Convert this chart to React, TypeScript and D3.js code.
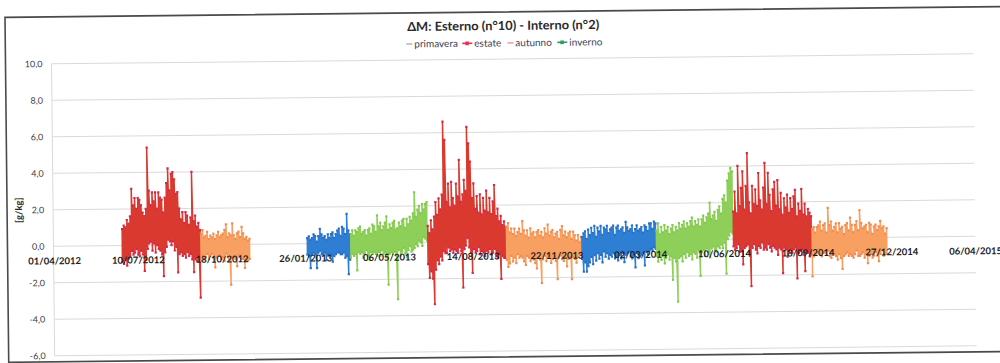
import * as d3 from 'd3';

const W = 1000;
const H = 363;

// date axis labels (every 100 days)
const dateTicks = [
  '01/04/2012', '10/07/2012', '18/10/2012', '26/01/2013', '06/05/2013', '14/08/2013',
  '22/11/2013', '02/03/2014', '10/06/2014', '18/09/2014', '27/12/2014', '06/04/2015',
];
const yTicks = [-6, -4, -2, 0, 2, 4, 6, 8, 10];

// the logged series is far denser than the page; each season keeps the high / low reached
// in every ~2-day slot, read off the scan, spread evenly from first to last day
const estate2012Hi = [
  0.9, 1.1, 1.0, 1.4, 1.2, 1.6, 3.1, 2.2, 2.6, 2.0, 2.6, 2.5, 2.2, 1.8, 1.6, 2.0, 5.35, 3.0, 2.2, 2.9,
  2.4, 2.9, 2.0, 2.9, 2.6, 2.5, 1.8, 2.6, 3.4, 4.2, 3.0, 3.9, 4.0, 3.6, 2.8, 2.9, 2.0, 1.4, 1.8, 1.2,
  1.8, 1.6, 1.1, 1.5, 4.0, 1.3, 1.6, 1.0, 1.2, 0.8,
];
const estate2012Lo = [
  -0.9, -1.0, -0.8, -1.1, -0.7, -0.6, -0.3, -0.5, -0.4, -0.2, -0.5, -0.6, -0.3, -0.5, -1.4, -0.8, -0.2,
  0.1, 0.2, -0.3, 0.1, -0.4, 0.0, -0.2, -0.3, -0.5, -1.7, -0.4, -0.1, 0.3, 0.2, 0.0, 0.2, -0.3, -0.1,
  -1.5, -0.5, -0.4, -0.6, -0.5, -0.7, -0.4, -0.6, -0.5, -0.8, -1.5, -0.8, -0.9, -0.6, -2.9,
];
const autunno2012Hi = [
  0.6, 0.8, 0.4, 0.5, 0.7, 0.3, 0.5, 0.4, 0.6, 0.3, 0.5, 0.7, 0.4, 0.5, 0.6, 0.8, 1.1, 0.4, 0.6, 0.5,
  1.15, 0.5, 0.3, 0.6, 0.7, 0.4, 0.95, 0.6, 0.3, 0.4, 0.2, 0.3,
];
const autunno2012Lo = [
  -0.9, -0.6, -0.8, -0.7, -0.5, -0.8, -0.6, -0.5, -0.7, -1.25, -0.7, -0.6, -0.6, -0.8, -0.7, -0.9, -0.5,
  -0.7, -0.8, -2.2, -0.7, -0.7, -0.8, -1.2, -0.6, -0.6, -0.8, -0.8, -1.3, -0.9, -0.9, -0.8,
];
const inverno2013Hi = [
  0.3, 0.4, 0.2, 0.3, 0.5, 0.4, 0.1, 0.4, 0.8, 0.5, 0.3, 0.4, 0.2, 0.5, 0.3, 0.5, 0.6, 0.3, 0.5, 0.7,
  0.8, 0.4, 0.9, 0.8, 0.5, 1.6, 0.7, 0.5,
];
const inverno2013Lo = [
  -0.6, -0.7, -1.35, -0.6, -0.5, -0.6, -1.35, -0.5, -0.4, -0.6, -0.6, -0.5, -0.9, -0.6, -0.7, -0.6, -1.0,
  -0.7, -0.6, -0.5, -0.5, -0.6, -0.6, -0.5, -0.8, -0.7, -1.7, -0.9,
];
const primavera2013Hi = [
  0.5, 0.7, 0.4, 0.7, 0.6, 0.8, 0.9, 0.5, 0.6, 0.7, 0.4, 0.7, 0.8, 0.5, 1.0, 0.9, 0.6, 1.5, 0.9, 1.1,
  0.7, 0.9, 1.1, 1.45, 0.7, 1.0, 0.8, 1.1, 1.2, 0.7, 0.8, 1.1, 0.9, 1.2, 1.3, 0.8, 1.3, 1.0, 1.4, 1.2,
  1.6, 2.75, 1.4, 1.8, 2.0, 1.6, 2.1, 1.8, 2.1, 2.2,
];
const primavera2013Lo = [
  -0.8, -0.6, -0.7, -0.6, -1.5, -0.5, -0.6, -0.5, -0.8, -0.6, -0.4, -0.7, -0.9, -0.5, -0.6, -0.5, -0.6,
  -0.7, -0.5, -0.7, -0.4, -0.6, -0.5, -0.8, -2.3, -0.6, -0.5, -0.6, -0.5, -0.7, -3.1, -0.4, -0.7, -0.5,
  -0.3, -0.6, -0.8, -0.4, -0.2, -0.5, -0.4, -0.3, -0.1, -0.2, 0.1, 0.0, -0.2, 0.3, 0.2, 0.1,
];
const estate2013Hi = [
  0.9, 0.5, 1.2, 0.7, 1.4, 2.2, 1.5, 2.4, 1.8, 2.6, 6.6, 5.6, 2.2, 3.2, 1.9, 3.3, 2.4, 2.0, 3.2, 2.5,
  4.5, 2.2, 2.6, 3.4, 2.8, 6.3, 5.4, 4.4, 2.4, 3.2, 1.8, 2.5, 1.6, 2.6, 1.5, 2.4, 1.7, 2.8, 1.6, 2.4,
  1.5, 2.2, 3.1, 1.4, 1.8, 1.1, 1.4, 0.9, 1.1, 0.8,
];
const estate2013Lo = [
  -1.2, -1.95, -1.6, -2.0, -3.4, -1.5, -1.0, -1.2, -0.8, -1.0, -0.5, -0.6, -0.6, -0.3, -0.5, -0.4, -0.6,
  -0.4, -0.5, -0.6, -0.3, -0.5, -2.5, -0.4, -0.2, 0.2, -0.3, -0.6, -1.7, -0.4, -0.6, -0.5, -0.3, -0.7,
  -0.5, -0.6, -0.8, -0.5, -0.6, -0.4, -0.7, -0.6, -0.4, -0.8, -0.9, -0.7, -2.05, -0.8, -0.9, -0.9,
];
const autunno2013Hi = [
  0.8, 1.0, 0.5, 0.7, 0.4, 0.7, 0.3, 0.5, 0.7, 0.4, 1.1, 0.6, 0.3, 0.6, 0.2, 0.7, 0.4, 0.5, 0.2, 0.5,
  0.6, 0.3, 0.5, 0.2, 0.7, 0.4, 0.9, 0.3, 0.5, 0.6, 0.2, 0.4, 0.5, 0.1, 0.6, 0.8, 0.3, 0.5, 0.2, 0.4,
  0.5, 0.1, 0.5, 0.3, 0.0, 0.3, -0.1, 0.2,
];
const autunno2013Lo = [
  -1.0, -1.4, -1.2, -0.8, -1.1, -0.9, -1.2, -0.7, -0.9, -0.8, -0.9, -1.1, -1.3, -0.8, -0.9, -1.1, -0.9,
  -1.0, -1.2, -1.5, -0.9, -1.0, -2.3, -1.0, -0.8, -1.1, -0.9, -0.8, -1.2, -1.0, -0.9, -1.1, -2.1, -0.9,
  -0.8, -1.0, -1.1, -0.9, -1.4, -1.0, -0.9, -2.1, -0.9, -1.0, -1.2, -0.9, -0.8, -0.8,
];
const inverno2014Hi = [
  0.2, 0.4, 0.5, 0.1, 0.6, 0.3, 0.7, 0.4, 0.8, 0.2, 0.7, 0.5, 0.8, 0.3, 0.7, 0.6, 0.8, 0.4, 0.6, 0.7,
  0.8, 0.3, 0.7, 0.8, 0.5, 0.6, 0.7, 0.4, 1.0, 0.7, 0.5, 0.6, 0.8, 0.4, 0.6, 0.8, 0.5, 0.6, 0.7, 0.4,
  0.8, 0.7, 0.5, 0.9, 0.9, 0.6, 1.0, 0.9,
];
const inverno2014Lo = [
  -1.0, -1.7, -1.2, -1.7, -1.4, -1.2, -0.9, -1.3, -0.8, -1.1, -0.7, -1.0, -0.8, -1.2, -0.6, -0.9, -0.7,
  -1.0, -0.8, -0.9, -0.7, -1.0, -0.9, -1.1, -0.8, -1.0, -0.7, -1.2, -0.8, -0.7, -0.6, -0.9, -1.0, -0.8,
  -1.5, -0.7, -1.0, -0.9, -0.8, -0.7, -1.4, -0.6, -0.8, -0.6, -0.5, -0.6, -0.4, -0.5,
];
const primavera2014Hi = [
  0.5, 0.9, 0.3, 0.7, 0.4, 0.8, 0.5, 0.7, 0.3, 0.6, 0.8, 0.4, 0.7, 0.5, 0.9, 0.6, 0.8, 1.0, 0.6, 0.9,
  0.7, 1.0, 1.2, 0.7, 1.0, 0.8, 1.1, 0.7, 1.1, 1.3, 0.9, 1.2, 1.4, 2.0, 1.1, 1.3, 1.5, 1.0, 1.6, 1.8,
  1.4, 2.2, 2.4, 2.0, 3.2, 3.6, 3.9, 3.7,
];
const primavera2014Lo = [
  -0.9, -1.2, -0.8, -1.1, -0.9, -1.3, -1.0, -0.8, -1.1, -0.9, -2.2, -1.0, -1.2, -3.4, -1.0, -0.9, -1.2,
  -0.8, -1.0, -0.7, -0.9, -0.8, -1.1, -0.7, -0.8, -1.0, -0.6, -2.0, -0.7, -0.6, -0.9, -0.5, -0.7, -1.0,
  -0.5, -0.4, -0.6, -0.7, -0.4, -0.5, -0.3, -0.5, -0.2, -1.9, 0.0, 0.2, 0.4, 0.3,
];
const estate2014Hi = [
  1.5, 2.6, 1.4, 4.0, 1.8, 2.8, 3.7, 1.6, 2.9, 4.7, 2.0, 1.4, 2.9, 1.9, 2.7, 1.8, 3.6, 2.1, 1.6, 2.8,
  4.15, 1.9, 3.6, 2.4, 1.5, 2.7, 3.1, 1.8, 3.2, 1.6, 2.5, 1.3, 2.2, 1.7, 2.4, 1.4, 2.2, 1.6, 2.3, 2.65,
  1.2, 1.9, 1.5, 2.7, 1.3, 1.9, 1.2, 1.6, 1.4, 1.2,
];
const estate2014Lo = [
  -0.4, -0.6, -0.5, -0.3, -0.7, -0.6, -1.4, -0.5, -0.4, -0.3, -0.8, -2.6, -0.5, -0.3, -0.6, -0.8, -0.4,
  -0.5, -0.2, -0.6, -0.5, -0.6, -0.3, -0.5, -0.7, -0.4, -0.5, -0.6, -0.9, -0.5, -0.6, -1.9, -0.5, -0.6,
  -1.0, -0.7, -0.6, -0.8, -0.6, -0.5, -2.2, -0.8, -0.7, -0.6, -0.9, -1.8, -0.7, -0.8, -1.0, -0.9,
];
const autunno2014Hi = [
  0.5, 0.6, 0.3, 0.6, 0.7, 0.9, 0.4, 0.7, 0.8, 0.3, 1.65, 0.7, 0.9, 0.4, 0.6, 0.8, 0.3, 0.8, 0.5, 0.6,
  0.2, 0.7, 0.8, 0.4, 1.1, 0.7, 0.3, 0.7, 0.9, 0.4, 1.5, 0.8, 0.5, 0.6, 0.7, 0.3, 0.8, 0.7, 0.2, 0.6,
  0.7, 0.4, 0.6, 0.9, 0.5, 0.6, 0.2, 0.5,
];
const autunno2014Lo = [
  -2.1, -1.0, -0.9, -0.8, -0.6, -0.9, -1.0, -0.8, -0.8, -0.9, -0.7, -1.0, -1.1, -0.8, -0.9, -1.0, -1.2,
  -0.9, -1.1, -1.7, -1.0, -0.9, -0.8, -1.0, -0.9, -1.0, -1.1, -0.9, -0.7, -1.0, -1.0, -0.9, -0.8, -1.1,
  -0.9, -1.4, -1.0, -0.9, -1.1, -1.0, -0.8, -1.0, -1.3, -0.9, -0.7, -1.0, -0.9, -0.9,
];

type Season = 'primavera' | 'estate' | 'autunno' | 'inverno';

const seasons: { kind: Season; from: string; to: string; hi: number[]; lo: number[] }[] = [
  { kind: 'estate', from: '2012-06-21', to: '2012-09-22', hi: estate2012Hi, lo: estate2012Lo },
  { kind: 'autunno', from: '2012-09-23', to: '2012-11-20', hi: autunno2012Hi, lo: autunno2012Lo },
  { kind: 'inverno', from: '2013-01-28', to: '2013-03-20', hi: inverno2013Hi, lo: inverno2013Lo },
  { kind: 'primavera', from: '2013-03-21', to: '2013-06-20', hi: primavera2013Hi, lo: primavera2013Lo },
  { kind: 'estate', from: '2013-06-21', to: '2013-09-22', hi: estate2013Hi, lo: estate2013Lo },
  { kind: 'autunno', from: '2013-09-23', to: '2013-12-21', hi: autunno2013Hi, lo: autunno2013Lo },
  { kind: 'inverno', from: '2013-12-22', to: '2014-03-20', hi: inverno2014Hi, lo: inverno2014Lo },
  { kind: 'primavera', from: '2014-03-21', to: '2014-06-20', hi: primavera2014Hi, lo: primavera2014Lo },
  { kind: 'estate', from: '2014-06-21', to: '2014-09-22', hi: estate2014Hi, lo: estate2014Lo },
  { kind: 'autunno', from: '2014-09-23', to: '2014-12-21', hi: autunno2014Hi, lo: autunno2014Lo },
];

const LINE: Record<Season, string> = {
  primavera: '#8ecf5a',
  estate: '#d9392e',
  autunno: '#f7a062',
  inverno: '#2e7fd3',
};
const MARK: Record<Season, string> = {
  primavera: '#84c84f',
  estate: '#d42a4a',
  autunno: '#f28b50',
  inverno: '#2a6fc6',
};

// legend swatches as they came out in the scan
const legendItems: { label: string; color: string; marker: boolean; x: number }[] = [
  { label: 'primavera', color: '#b5b5b5', marker: false, x: 408 },
  { label: 'estate', color: '#e0355f', marker: true, x: 464 },
  { label: 'autunno', color: '#f2a9b2', marker: false, x: 509 },
  { label: 'inverno', color: '#2f9d5f', marker: true, x: 559 },
];

const FONT = 'Lato, "Open Sans", sans-serif';
const parseTick = d3.timeParse('%d/%m/%Y');
const parseDay = d3.timeParse('%Y-%m-%d');
const fmtY = (v: number) => v.toFixed(1).replace('.', ',');

type Pt = { t: Date; v: number };

export default function App() {
  const x = d3
    .scaleTime()
    .domain([parseTick(dateTicks[0])!, parseTick(dateTicks[dateTicks.length - 1])!])
    .range([54, 975]);
  const y = d3.scaleLinear().domain([-6, 10]).range([351, 59]);
  const x0 = 53;
  const x1 = 975;

  const series = seasons.map((s) => {
    const a = parseDay(s.from)!.getTime();
    const b = parseDay(s.to)!.getTime();
    const n = s.hi.length;
    // each slot: low then high at the same time, so the trace runs up and down like the raw log
    const pts: Pt[] = [];
    s.hi.forEach((h, i) => {
      const t = new Date(a + ((b - a) * i) / (n - 1));
      pts.push({ t, v: s.lo[i] }, { t, v: h });
    });
    return { ...s, pts };
  });

  const line = d3
    .line<Pt>()
    .x((d) => x(d.t))
    .y((d) => y(d.v));

  return (
    <svg
      width={W}
      height={H}
      style={{ position: 'absolute', left: 0, top: 0, background: '#fff' }}
      fontFamily={FONT}
    >
      <rect width={W} height={H} fill='#fff' />
      <g transform='rotate(-0.62 500 200)'>
        {/* chart frame */}
        <rect x={7} y={12} width={1010} height={345} fill='none' stroke='#4a4a4a' strokeWidth={1.6} />

        {/* title */}
        <text
          x={505}
          y={30}
          textAnchor='middle'
          fontSize={12.5}
          fontWeight={700}
          fill='#2a2a2a'
          textLength={192}
          lengthAdjust='spacingAndGlyphs'
        >
          ΔM: Esterno (n°10) - Interno (n°2)
        </text>

        {/* legend */}
        {legendItems.map((it) => (
          <g key={it.label} transform={`translate(${it.x},43)`}>
            <line x1={0} x2={it.marker ? 10 : 6} y1={0} y2={0} stroke={it.color} strokeWidth={1.6} />
            {it.marker && <rect x={3} y={-1.8} width={3.6} height={3.6} fill={it.color} />}
            <text x={it.marker ? 12 : 8} y={3.5} fontSize={10} fill='#3c3f55'>
              {it.label}
            </text>
          </g>
        ))}

        {/* grid */}
        {yTicks.map((t) => (
          <g key={t}>
            <line x1={x0} x2={x1} y1={y(t)} y2={y(t)} stroke='#dadada' strokeWidth={1} />
            <text x={44} y={y(t)} dy='0.35em' textAnchor='end' fontSize={9} fill='#404040'>
              {fmtY(t)}
            </text>
          </g>
        ))}
        <line x1={x0} x2={x0} y1={y(10)} y2={y(-6)} stroke='#dadada' strokeWidth={1} />

        {/* y axis title */}
        <text
          transform={`translate(22,${(y(10) + y(-6)) / 2}) rotate(-90)`}
          textAnchor='middle'
          fontSize={9.5}
          fontWeight={700}
          fill='#2a2a2a'
        >
          [g/kg]
        </text>

        {/* seasons */}
        {series.map((s, k) => (
          <g key={k}>
            <path
              d={line(s.pts) ?? ''}
              fill='none'
              stroke={LINE[s.kind]}
              strokeWidth={1.5}
              strokeLinejoin='bevel'
            />
            {s.pts.map((p, i) => (
              <rect
                key={i}
                x={x(p.t) - 1.1}
                y={y(p.v) - 1.1}
                width={2.2}
                height={2.2}
                fill={MARK[s.kind]}
              />
            ))}
          </g>
        ))}

        {/* date labels sit on the 0 line */}
        {dateTicks.map((d) => (
          <text
            key={d}
            x={x(parseTick(d)!)}
            y={y(0) + 18}
            textAnchor='middle'
            fontSize={9.5}
            fontWeight={700}
            fill='#1c1c1c'
          >
            {d}
          </text>
        ))}
      </g>
    </svg>
  );
}
